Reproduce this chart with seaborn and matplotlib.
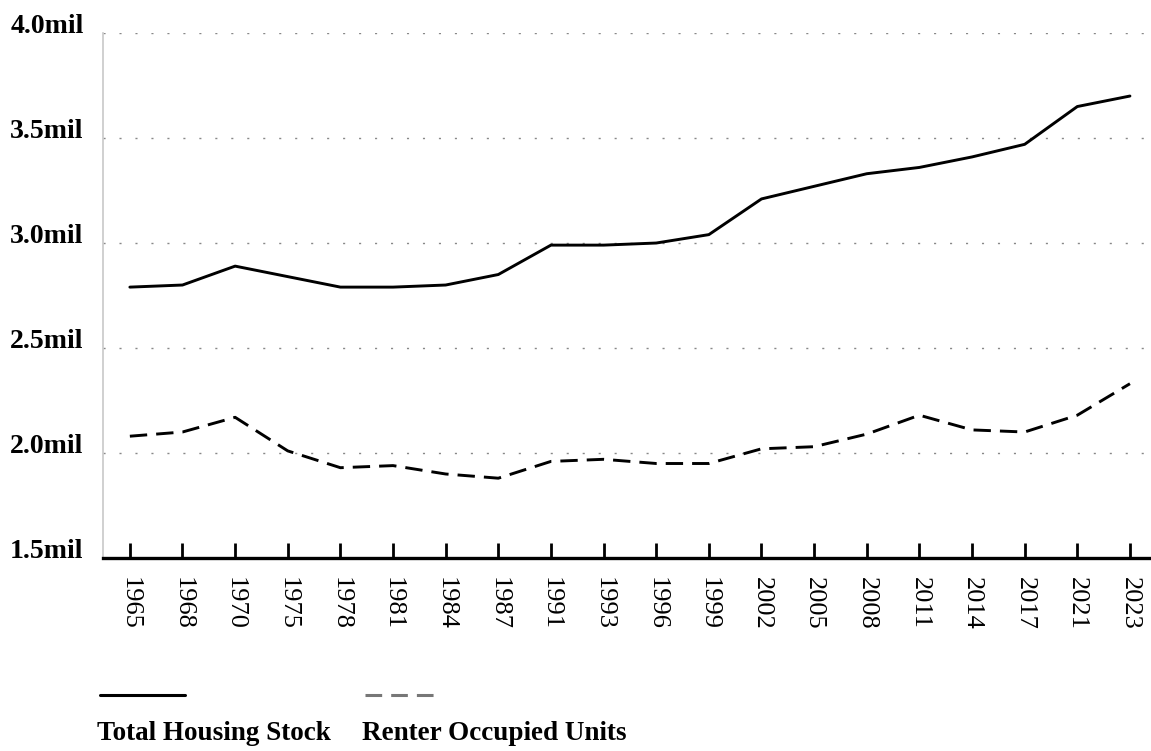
import numpy as np
import pandas as pd
import matplotlib.pyplot as plt
import seaborn as sns
from matplotlib.lines import Line2D
from matplotlib.ticker import FuncFormatter

years = ['1965', '1968', '1970', '1975', '1978', '1981', '1984', '1987', '1991', '1993',
         '1996', '1999', '2002', '2005', '2008', '2011', '2014', '2017', '2021', '2023']
total_stock = [2.79, 2.80, 2.89, 2.84, 2.79, 2.79, 2.80, 2.85, 2.99, 2.99,
               3.00, 3.04, 3.21, 3.27, 3.33, 3.36, 3.41, 3.47, 3.65, 3.70]
renter_units = [2.08, 2.10, 2.17, 2.01, 1.93, 1.94, 1.90, 1.88, 1.96, 1.97,
                1.95, 1.95, 2.02, 2.03, 2.09, 2.18, 2.11, 2.10, 2.18, 2.33]
series_names = ['Total Housing Stock', 'Renter Occupied Units']
yticks = [1.5, 2.0, 2.5, 3.0, 3.5, 4.0]

sns.set_theme(style='white')
plt.rcParams['font.family'] = ['Liberation Serif', 'DejaVu Serif']
plt.rcParams['lines.scale_dashes'] = False
plt.rcParams['text.color'] = 'black'
plt.rcParams['xtick.color'] = 'black'
plt.rcParams['ytick.color'] = 'black'

df = pd.DataFrame({'year': years, 'total': total_stock, 'renter': renter_units})

fig = plt.figure(figsize=(11.51, 7.51), dpi=100)
ax = fig.add_axes([0.0895, 0.257, 0.9105, 0.699])

# gridlines first so the lines sit on top
for v in yticks[1:]:
    ax.axhline(v, color='#888888', lw=1.0, linestyle=(0, (1.5, 10)), zorder=0)

sns.lineplot(data=df, x='year', y='total', ax=ax, color='black', lw=2.1, sort=False)
sns.lineplot(data=df, x='year', y='renter', ax=ax, color='black', lw=2.1, sort=False,
             linestyle=(0, (12.5, 6.5)))

ax.set_xlim(-0.51, 19.4)
ax.set_ylim(1.5, 4.0)
ax.set_yticks(yticks)
ax.yaxis.set_major_formatter(FuncFormatter(lambda v, p: f'{v:.1f}mil'))
ax.set_xlabel('')
ax.set_ylabel('')

for lab in ax.get_yticklabels():
    lab.set_fontweight('bold')
    lab.set_fontsize(20)
    lab.set_va('baseline')
ax.tick_params(axis='y', length=0, pad=14)
ax.tick_params(axis='x', direction='in', length=11, width=2, color='black',
               labelsize=19, pad=14, bottom=True)
for lab in ax.get_xticklabels():
    lab.set_rotation(270)
    lab.set_va('top')
    lab.set_ha('center')

for s in ['top', 'right']:
    ax.spines[s].set_visible(False)
ax.spines['left'].set_color('#c8c8c8')
ax.spines['left'].set_linewidth(1.2)
ax.spines['bottom'].set_color('black')
ax.spines['bottom'].set_linewidth(2.4)

# legend: line sample above each label
fig.add_artist(Line2D([100 / 1151, 185 / 1151], [1 - 695 / 751] * 2, color='black', lw=2.2))
fig.add_artist(Line2D([365 / 1151, 437 / 1151], [1 - 695 / 751] * 2, color='#777777', lw=2.2,
                      linestyle=(0, (12, 6.5))))
fig.text(97 / 1151, 1 - 733 / 751, series_names[0], fontsize=19.5, fontweight='bold', va='center')
fig.text(362 / 1151, 1 - 733 / 751, series_names[1], fontsize=19.5, fontweight='bold', va='center')

fig.savefig('out.png', dpi=100, facecolor='white')
